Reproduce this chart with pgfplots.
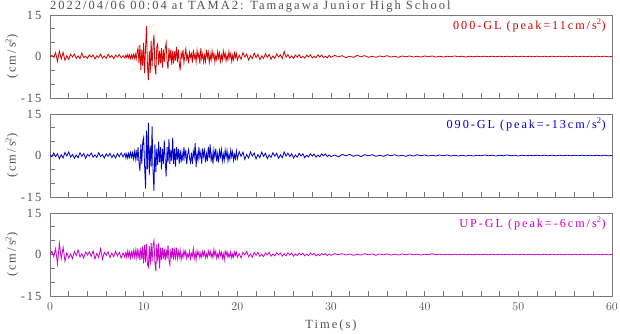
\documentclass[border=0pt]{standalone}
\usepackage{pgfplots}
\usepackage{pgfplotstable}
\pgfplotsset{compat=1.18}
\usepackage{fontspec}
\setmainfont{Liberation Serif}[LetterSpace=16]
\definecolor{cred}{RGB}{214,0,0}
\definecolor{cblue}{RGB}{0,0,204}
\definecolor{cmag}{RGB}{204,0,204}
\definecolor{ctxt}{RGB}{80,80,80}
\definecolor{cax}{RGB}{120,120,120}

\pgfplotstableread{
t r b m
0.0 0.0 0.0 0.0
0.2 0.4 -0.5 1.2
0.4 -0.3 0.9 -0.8
0.6 1.4 -0.4 2.1
0.8 -1.8 0.6 -3.4
1.0 2.0 -1.2 4.1
1.2 -0.9 0.3 -1.5
1.4 1.5 -0.9 2.6
1.6 -1.4 1.1 -2.4
1.8 0.3 -0.2 0.6
2.0 -1.1 1.3 -1.3
2.2 0.8 -0.6 0.2
2.4 -0.2 0.4 -1.5
2.6 0.9 -1.0 1.1
2.8 -0.7 0.2 -0.4
3.0 0.2 -0.8 1.6
3.2 -0.8 1.0 -0.9
3.4 1.2 -0.3 0.3
3.6 -0.4 0.7 -1.3
3.8 0.1 -1.0 0.9
4.0 -0.7 0.4 -0.2
4.2 0.6 -0.2 1.0
4.4 -0.2 0.9 -0.7
4.6 0.5 -0.6 1.3
4.8 -0.9 0.2 -1.6
5.0 0.3 -0.7 0.4
5.2 -0.4 1.0 -1.1
5.4 0.9 -0.4 2.1
5.6 -0.6 0.3 -1.7
5.8 0.2 -0.9 0.8
6.0 -0.7 0.6 -0.3
6.2 0.8 -0.3 1.0
6.4 -0.3 0.8 -1.1
6.6 0.4 -0.7 0.5
6.8 -0.8 0.3 -0.8
7.0 0.5 -0.9 1.2
7.2 -0.2 0.7 -0.5
7.4 0.7 -0.4 0.8
7.6 -0.5 0.9 -1.3
7.8 0.3 -0.5 0.6
8.0 -0.6 0.8 -1.0
8.1 0.5 -0.9 0.8
8.2 -0.4 0.6 -1.1
8.3 0.7 -1.0 1.3
8.4 -0.5 0.8 -0.7
8.5 0.6 -0.7 1.0
8.6 -0.8 1.1 -1.3
8.7 0.5 -0.6 0.9
8.8 -0.6 1.0 -0.8
8.9 0.8 -1.2 1.4
9.0 -0.7 1.5 -1.0
9.1 0.9 -1.3 1.6
9.2 -1.0 2.0 -1.2
9.3 1.5 -1.8 2.2
9.4 3.0 3.0 -1.5
9.5 -2.5 -2.5 1.8
9.6 4.2 -5.5 -2.0
9.7 -4.8 4.0 2.5
9.8 2.5 -3.0 -1.8
9.9 -3.5 5.0 3.0
10.0 5.0 6.5 -3.2
10.1 -6.0 -4.0 3.5
10.2 3.0 -12.0 -2.8
10.3 11.0 9.0 3.8
10.4 -3.0 -5.0 -3.5
10.5 -8.5 11.8 -4.6
10.6 2.0 -7.0 3.0
10.7 -6.0 3.5 -3.8
10.8 5.6 -4.0 4.2
10.9 -3.5 10.5 -2.5
11.0 4.0 -6.0 3.5
11.1 7.8 -12.8 5.0
11.2 -4.0 4.0 -3.0
11.3 -6.5 -6.0 -6.0
11.4 3.5 2.5 3.8
11.5 4.5 -3.5 -2.5
11.6 -3.0 5.0 4.0
11.7 2.0 -2.5 -5.0
11.8 -2.5 3.0 2.5
11.9 3.0 -5.0 -2.0
12.0 -4.0 2.5 2.5
12.1 2.5 -3.0 -1.5
12.2 -2.0 5.5 2.0
12.3 3.0 -2.0 -2.2
12.4 5.0 -7.5 1.8
12.5 -2.0 3.0 -1.5
12.6 -4.5 -2.5 3.5
12.7 3.0 6.0 -2.0
12.8 -1.5 -3.0 -3.8
12.9 2.5 2.0 2.0
13.0 -3.0 -2.0 -1.5
13.1 2.0 6.5 2.5
13.2 -2.5 -3.0 -1.8
13.3 1.8 2.5 1.5
13.4 -1.5 -4.0 -1.2
13.5 3.5 3.0 2.5
13.6 -2.0 -1.5 -1.5
13.7 2.5 2.5 1.2
13.8 -2.5 -3.0 -1.0
13.9 -5.0 2.0 1.5
14.0 1.2 -2.5 -1.8
14.1 -0.5 1.0 0.4
14.2 2.5 -2.0 -1.2
14.3 -2.2 3.0 1.5
14.4 0.4 -0.8 -0.3
14.5 2.8 2.0 1.3
14.6 -1.0 -3.2 -1.5
14.7 0.6 0.5 0.2
14.8 -2.5 2.2 -0.8
14.9 1.5 -1.0 1.2
15.0 -0.3 -2.5 -1.5
15.1 1.0 1.0 0.4
15.2 -2.2 -3.0 -0.6
15.3 2.5 1.5 2.2
15.4 -0.6 -0.5 -1.5
15.5 0.8 4.5 0.6
15.6 -2.0 -4.2 -1.8
15.7 2.2 0.8 1.4
15.8 -0.4 -1.6 -0.3
15.9 1.2 3.0 1.0
16.0 -2.6 -0.7 -1.3
16.1 3.0 1.2 0.5
16.2 -0.8 -3.0 -1.0
16.3 0.9 2.6 1.2
16.4 -2.0 -0.4 -0.4
16.5 0.5 1.8 1.0
16.6 -1.8 -2.5 -1.2
16.7 2.5 0.6 0.2
16.8 -0.3 -2.0 -1.0
16.9 1.6 3.2 1.3
17.0 -2.2 -1.0 -0.3
17.1 0.7 4.0 1.2
17.2 -1.4 -2.2 -0.9
17.3 2.0 0.8 0.4
17.4 -0.5 -3.0 -1.2
17.5 1.2 2.0 1.8
17.6 -2.0 -0.5 -0.3
17.7 0.4 2.5 1.1
17.8 -1.2 -2.2 -1.3
17.9 1.8 0.6 0.2
18.0 -0.6 -2.5 -1.0
18.1 1.3 1.8 1.2
18.2 -1.8 -0.4 -0.4
18.3 0.5 2.2 0.8
18.4 -1.2 -2.0 -1.4
18.5 2.0 0.5 0.3
18.6 -0.4 -1.8 -2.0
18.7 1.2 2.0 1.2
18.8 -1.6 -0.6 -0.2
18.9 0.3 1.8 1.1
19.0 -1.2 -2.0 -1.0
19.1 1.8 0.4 0.3
19.2 -0.5 -1.4 -0.9
19.3 1.2 2.0 1.0
19.4 -1.8 -0.5 -1.2
19.5 0.4 1.4 0.2
19.6 -1.2 -1.8 -1.0
19.7 1.3 0.4 0.9
19.8 -0.3 -1.2 -0.3
19.9 1.1 1.6 0.8
20.0 -1.3 -1.2 -1.0
20.2 0.5 1.4 0.3
20.4 -1.0 -0.3 -1.2
20.6 1.4 1.2 0.8
20.8 -0.2 -1.4 -0.2
21.0 0.9 0.4 1.1
21.2 -1.3 -0.9 -0.8
21.4 0.3 1.3 0.2
21.6 -0.8 -0.2 -1.0
21.8 1.2 0.9 0.7
22.0 -0.4 -1.2 -0.3
22.2 0.8 0.3 0.8
22.4 -1.1 -0.8 -0.7
22.6 0.2 1.2 0.1
22.8 -0.7 -0.3 -0.8
23.0 1.0 0.8 0.6
23.2 -0.3 -1.1 -0.2
23.4 0.7 0.2 0.8
23.6 -1.0 -0.7 -0.6
23.8 0.2 1.0 0.2
24.0 -0.7 -0.2 -0.5
24.2 0.9 0.8 0.6
24.4 -0.2 -1.0 -0.1
24.6 0.6 0.3 0.5
24.8 -0.7 -0.8 -0.6
25.0 1.8 1.3 0.3
25.2 -0.3 -0.2 -0.5
25.4 0.7 0.9 0.6
25.6 -0.6 -0.4 -0.2
25.8 0.2 0.6 0.5
26.0 -0.7 -0.9 -0.6
26.2 0.5 0.2 0.2
26.4 -0.2 -0.6 -0.4
26.6 0.6 0.8 0.5
26.8 -0.5 -0.2 -0.1
27.0 0.1 0.6 0.4
27.2 -0.6 -0.8 -0.5
27.4 0.5 0.1 0.2
27.6 -0.2 -0.5 -0.4
27.8 0.6 0.6 0.5
28.0 -0.5 -0.2 -0.1
28.2 0.1 0.5 0.4
28.4 -0.5 -0.6 -0.5
28.6 0.6 0.2 0.2
28.8 -0.2 -0.5 -0.4
29.0 0.5 0.6 0.3
29.2 -0.4 -0.1 -0.1
29.4 0.1 0.6 0.3
29.6 -0.5 -0.4 -0.4
29.8 0.4 0.2 0.2
30.0 -0.3 -0.4 -0.3
30.4 0.4 0.2 0.3
30.8 -0.1 -0.5 -0.1
31.2 0.3 0.4 0.3
31.6 -0.4 -0.1 -0.2
32.0 0.1 0.4 0.2
32.4 -0.3 -0.3 -0.3
32.8 0.4 0.2 0.1
33.2 -0.1 -0.4 -0.2
33.6 0.3 0.3 0.3
34.0 -0.3 -0.1 -0.1
34.4 0.1 0.3 0.2
34.8 -0.3 -0.3 -0.3
35.2 0.2 0.1 0.2
35.6 -0.1 -0.3 -0.1
36.0 0.3 0.3 0.2
36.4 -0.2 -0.1 -0.2
36.8 0.1 0.3 0.1
37.2 -0.3 -0.2 -0.2
37.6 0.2 0.1 0.2
38.0 -0.1 -0.3 -0.1
38.4 0.2 0.2 0.2
38.8 -0.2 -0.2 -0.1
39.2 0.1 0.3 0.1
39.6 -0.2 -0.1 -0.2
40.0 0.2 0.2 0.1
40.4 -0.1 -0.2 -0.1
40.8 0.2 0.1 0.3
41.2 -0.2 -0.2 -0.1
41.6 0.1 0.2 0.1
42.0 -0.2 -0.1 -0.1
42.4 0.1 0.2 0.1
42.8 -0.1 -0.2 -0.1
43.2 0.2 0.1 0.1
43.6 -0.1 -0.2 -0.1
44.0 0.1 0.1 0.1
44.4 -0.2 -0.2 -0.1
44.8 0.1 0.1 0.1
45.2 -0.1 -0.2 -0.1
45.6 0.1 0.1 0.1
46.0 -0.1 -0.1 -0.1
46.4 0.1 0.2 0.1
46.8 -0.1 -0.1 -0.1
47.2 0.1 0.1 0.1
47.6 -0.1 -0.2 -0.1
48.0 0.1 0.1 0.1
48.4 -0.1 -0.1 -0.1
48.8 0.1 0.2 0.1
49.2 -0.1 -0.1 -0.1
49.6 0.1 0.1 0.1
50.0 -0.1 -0.2 -0.1
50.4 0.1 0.1 0.1
50.8 -0.1 -0.1 -0.1
51.2 0.1 0.1 0.1
51.6 -0.1 -0.1 -0.1
52.0 0.1 0.1 0.1
52.4 -0.1 -0.1 -0.1
52.8 0.1 0.1 0.1
53.2 -0.1 -0.1 -0.1
53.6 0.1 0.1 0.1
54.0 -0.1 -0.1 -0.1
54.4 0.1 0.1 0.1
54.8 -0.1 -0.1 -0.1
55.2 0.1 0.1 0.1
55.6 -0.1 -0.1 -0.1
56.0 0.1 0.1 0.1
56.4 -0.1 -0.1 -0.1
56.8 0.1 0.1 0.1
57.2 -0.1 -0.1 -0.1
57.6 0.1 0.1 0.1
58.0 -0.1 -0.1 -0.1
58.4 0.1 0.1 0.1
58.8 -0.1 -0.1 -0.1
59.2 0.1 0.1 0.1
59.6 -0.1 -0.1 -0.1
60.0 0.0 0.0 0.0
}\seis

\pgfplotsset{
  seisax/.style={
    scale only axis, width=562bp, height=83bp,
    xmin=0, xmax=60, ymin=-15, ymax=15,
    xtick={0,10,...,60}, minor x tick num=4,
    ytick={-15,0,15}, yticklabels={-15,0,15}, minor y tick num=2,
    tick pos=left, tick align=inside,
    major tick length=5bp, minor tick length=5bp,
    axis line style={cax, line width=0.8bp},
    every tick/.style={cax, line width=0.7bp},
    every minor tick/.style={cax, line width=0.7bp},
    tick label style={font=\fontsize{12.5bp}{14bp}\selectfont, text=ctxt},
    yticklabel style={xshift=-5bp},
    xticklabel style={yshift=-3bp},
    label style={font=\fontsize{12.5bp}{14bp}\selectfont, text=ctxt},
    ylabel={(cm/s\textsuperscript{2})},
    ylabel style={at={(rel axis cs:0,0.5)}, anchor=center, rotate=0, yshift=38bp},
    xlabel style={yshift=-3bp},
    clip=true,
  },
}

\begin{document}
\begin{tikzpicture}
\path[use as bounding box] (0,0) rectangle (620bp,-334bp);
\node[anchor=base west, text=ctxt, font=\fontsize{12.5bp}{14bp}\selectfont, inner sep=0pt]
  at (50bp,-9.5bp) {2022/04/06 00:04 at TAMA2: Tamagawa Junior High School};

\begin{axis}[seisax, at={(50bp,-98bp)}, anchor=south west, xticklabels={}]
\addplot[cred, line width=0.8bp] table[x=t, y=r] {\seis};
\node[anchor=base east, text=cred, font=\fontsize{12.2bp}{15bp}\selectfont, inner sep=0pt]
  at (rel axis cs:0.989,0.83) {000-GL (peak=11cm/s\textsuperscript{2})};
\end{axis}

\begin{axis}[seisax, at={(50bp,-197bp)}, anchor=south west, xticklabels={}]
\addplot[cblue, line width=0.8bp] table[x=t, y=b] {\seis};
\node[anchor=base east, text=cblue, font=\fontsize{12.2bp}{15bp}\selectfont, inner sep=0pt]
  at (rel axis cs:0.989,0.83) {090-GL (peak=-13cm/s\textsuperscript{2})};
\end{axis}

\begin{axis}[seisax, at={(50bp,-296bp)}, anchor=south west,
  xlabel={Time(s)}]
\addplot[cmag, line width=0.8bp] table[x=t, y=m] {\seis};
\node[anchor=base east, text=cmag, font=\fontsize{12.2bp}{15bp}\selectfont, inner sep=0pt]
  at (rel axis cs:0.989,0.83) {UP-GL (peak=-6cm/s\textsuperscript{2})};
\end{axis}
\end{tikzpicture}
\end{document}
